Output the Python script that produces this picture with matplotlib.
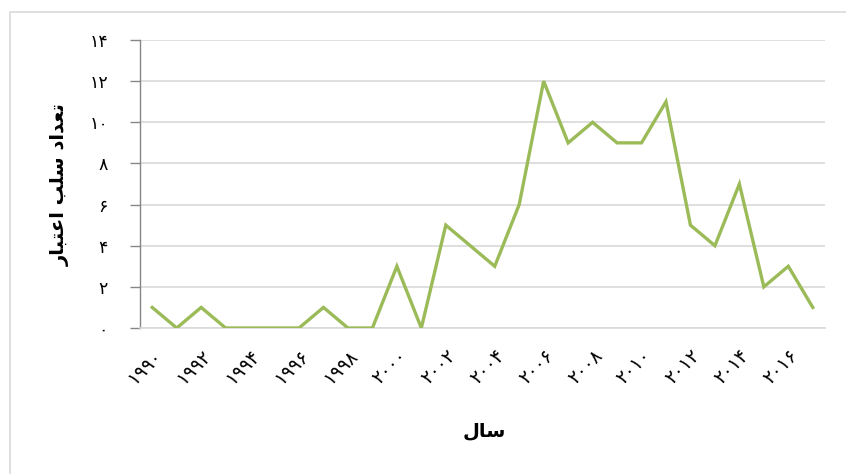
import matplotlib
matplotlib.use("Agg")
import matplotlib.pyplot as plt
from matplotlib.lines import Line2D

years = list(range(1990, 2018))
counts = [1, 0, 1, 0, 0, 0, 0, 1, 0, 0, 3, 0, 5, 4, 3, 6, 12, 9, 10, 9, 9, 11, 5, 4, 7, 2, 3, 1]
y_ticks = [0, 2, 4, 6, 8, 10, 12, 14]
x_tick_years = list(range(1990, 2018, 2))

# Persian labels in visual order (presentation forms)
y_label = "\uFEAD\uFE8E\uFE92\uFE98\uFECB\uFE8D \uFE90\uFEE0\uFEB3 \uFEA9\uFE8D\uFEAA\uFECC\uFE97"  # تعداد سلب اعتبار
x_label = "\uFEDD\uFE8E\uFEB3"  # سال

PERSIAN = str.maketrans("0123456789", "\u06F0\u06F1\u06F2\u06F3\u06F4\u06F5\u06F6\u06F7\u06F8\u06F9")
def fa(n):
    return str(n).translate(PERSIAN)

plt.rcParams['font.family'] = ['DejaVu Sans']

fig = plt.figure(figsize=(8.46, 4.74), dpi=100)
ax = fig.add_axes([140/846, 1-328/474, 685/846, 288/474])

ax.plot(years, counts, color='#9bbb59', linewidth=2.4, solid_joinstyle='miter', zorder=3)

ax.set_xlim(1989.5, 2017.5)
ax.set_ylim(0, 14)
ax.set_yticks(y_ticks)
ax.set_yticklabels([fa(v) for v in y_ticks], fontsize=12.5)
ax.yaxis.grid(True, color='#d9d9d9', linewidth=1.2)
ax.set_axisbelow(True)

ax.set_xticks(x_tick_years)
ax.set_xticklabels([fa(v) for v in x_tick_years], fontsize=13.5, rotation=45,
                   ha='right', rotation_mode='anchor')
ax.tick_params(axis='x', length=0, pad=13)
ax.tick_params(axis='y', length=7, width=1, color='#868686', pad=16)

for s in ['top', 'right']:
    ax.spines[s].set_visible(False)
ax.spines['left'].set_color('#868686')
ax.spines['left'].set_linewidth(1)
ax.spines['bottom'].set_color('#d9d9d9')
ax.spines['bottom'].set_linewidth(1.2)

fig.text(60/846, 1-185/474, y_label, rotation=90, ha='center', va='center',
         fontsize=14, fontweight='bold')
fig.text(484/846, 1-431/474, x_label, ha='center', va='center',
         fontsize=14, fontweight='bold')

# chart frame
fig.add_artist(Line2D([9.5/846, 9.5/846, 1.0], [0.0, 1-11.5/474, 1-11.5/474],
                      transform=fig.transFigure, color='#d9d9d9', linewidth=1.2))

fig.savefig('out.png', dpi=100)
